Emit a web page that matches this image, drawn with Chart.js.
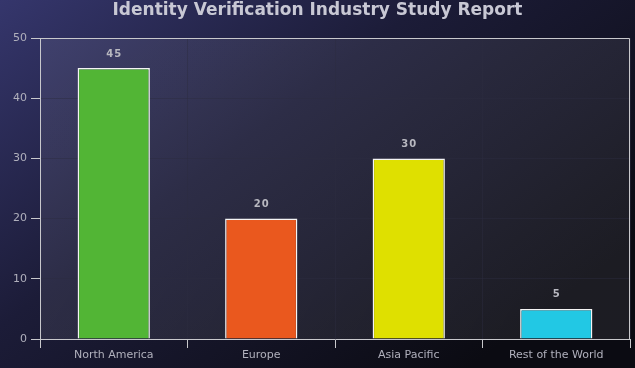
<!DOCTYPE html>
<html>
<head>
<meta charset="utf-8">
<script src="https://cdn.jsdelivr.net/npm/chart.js@4"></script>
<style>
  html, body { margin: 0; padding: 0; background: #15152a; }
  #wrap { width: 635px; height: 368px; }
</style>
</head>
<body>
<div id="wrap"><canvas id="chart" width="635" height="368"></canvas></div>
<script>
const regions = ['North America', 'Europe', 'Asia Pacific', 'Rest of the World'];
const shares = [45, 20, 30, 5];
const barColors = ['#52b535', '#ea581e', '#dfe000', '#22c8e4'];
const yTicks = [0, 10, 20, 30, 40, 50];

// page background + plot panel + frame
const backdrop = {
    id: 'backdrop',
    beforeDraw(chart) {
        const { ctx, chartArea: a, width, height } = chart;
        ctx.save();
        const g = ctx.createLinearGradient(0, 0, width * 0.55, height * 1.25);
        g.addColorStop(0, '#35366c');
        g.addColorStop(0.45, '#1c1c38');
        g.addColorStop(1, '#0b0b12');
        ctx.fillStyle = g;
        ctx.fillRect(0, 0, width, height);
        const p = ctx.createLinearGradient(a.left, a.top, a.right, a.bottom);
        p.addColorStop(0, 'rgba(255,255,255,0.08)');
        p.addColorStop(1, 'rgba(255,255,255,0.07)');
        ctx.fillStyle = p;
        ctx.fillRect(a.left, a.top, a.right - a.left, a.bottom - a.top);
        // title
        ctx.fillStyle = '#c8c8d4';
        ctx.font = 'bold 17px "DejaVu Sans"';
        ctx.textAlign = 'center';
        ctx.textBaseline = 'middle';
        ctx.fillText('Identity Verification Industry Study Report', width / 2, 11);
        ctx.restore();
    },
    afterDatasetsDraw(chart) {
        const { ctx, chartArea: a } = chart;
        ctx.save();
        ctx.strokeStyle = '#c8c8cc';
        ctx.lineWidth = 1;
        ctx.beginPath();
        ctx.moveTo(a.left + 0.5, a.bottom);
        ctx.lineTo(a.left + 0.5, a.top + 0.5);
        ctx.lineTo(a.right - 0.5, a.top + 0.5);
        ctx.lineTo(a.right - 0.5, a.bottom);
        ctx.stroke();
        // value labels
        const meta = chart.getDatasetMeta(0);
        ctx.fillStyle = '#b8b8c0';
        ctx.font = 'bold 10px "DejaVu Sans"';
        ctx.textAlign = 'center';
        ctx.textBaseline = 'middle';
        meta.data.forEach((bar, i) => {
            ctx.fillText(String(shares[i]).split('').join(String.fromCharCode(8202)), bar.x, bar.y - 14);
        });
        ctx.restore();
    }
};

new Chart(document.getElementById('chart'), {
    type: 'bar',
    data: {
        labels: regions,
        datasets: [{
            data: shares,
            backgroundColor: barColors,
            borderColor: '#f4f4f4',
            borderWidth: 1.5,
            categoryPercentage: 1,
            barPercentage: 0.49
        }]
    },
    options: {
        responsive: false,
        animation: false,
        layout: { padding: { top: 38, right: 5, left: 0, bottom: 0 } },
        plugins: { legend: { display: false }, tooltip: { enabled: false }, title: { display: false } },
        scales: {
            x: {
                afterFit(s) { s.height = 29; },
                border: { color: '#c8c8cc', width: 1 },
                grid: {
                    offset: true,
                    color: 'rgba(45,45,65,0.45)',
                    tickColor: '#c8c8cc',
                    tickLength: 9,
                    drawTicks: true
                },
                ticks: { color: '#b0b0bc', font: { family: 'DejaVu Sans', size: 11 }, padding: 1 }
            },
            y: {
                min: 0,
                max: 50,
                afterFit(s) { s.width = 40; },
                afterBuildTicks(s) { s.ticks = yTicks.map(v => ({ value: v })); },
                border: { color: '#c8c8cc', width: 1 },
                grid: {
                    color: ctx => ctx.tick && ctx.tick.value === 50 ? 'rgba(0,0,0,0)' : 'rgba(45,45,65,0.45)',
                    tickColor: '#c8c8cc',
                    tickLength: 9
                },
                ticks: { color: '#b0b0bc', font: { family: 'DejaVu Sans', size: 11 }, padding: 4 }
            }
        }
    },
    plugins: [backdrop]
});
</script>
</body>
</html>
